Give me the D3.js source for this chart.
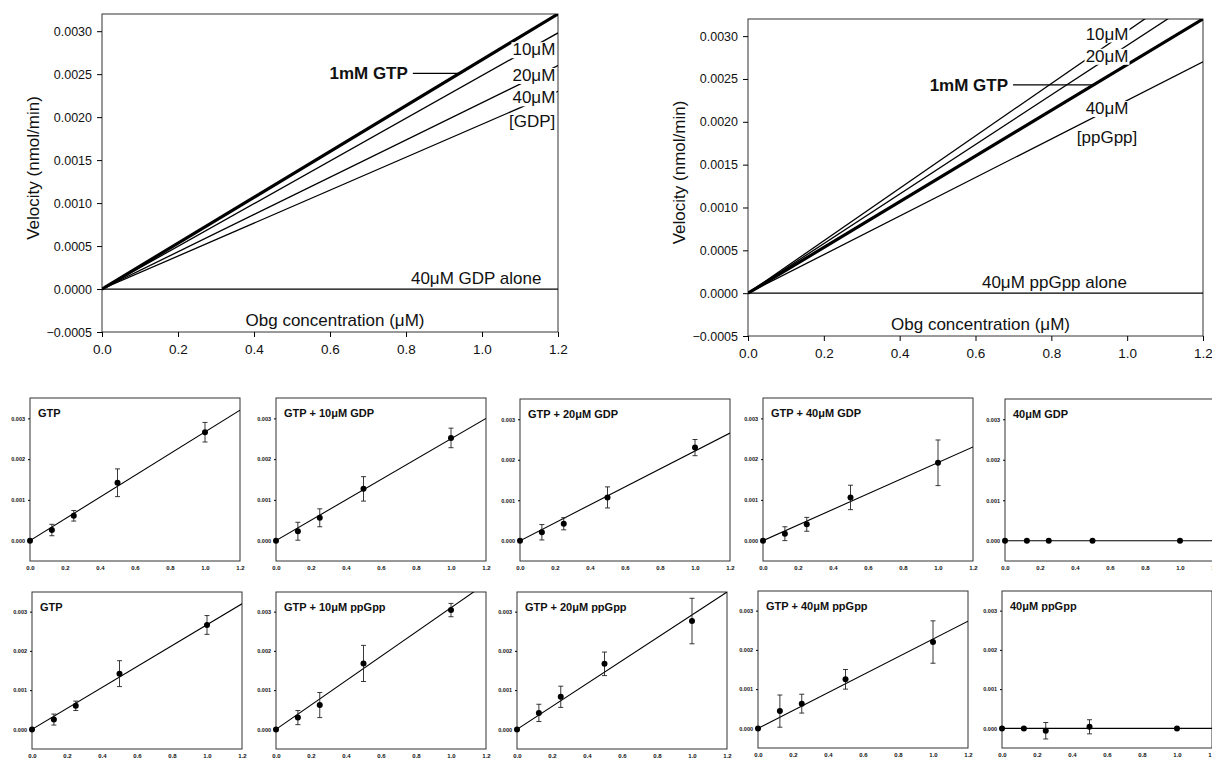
<!DOCTYPE html>
<html>
<head>
<meta charset="utf-8">
<script src="https://cdn.jsdelivr.net/npm/d3@7"></script>
<style>
  body { margin: 0; background: #fff; }
  svg text { font-family: "Liberation Sans", Arial, sans-serif; fill: #111; }
</style>
</head>
<body>
<div id="chart"></div>
<script>
// ---- data ----
const concX = [0, 0.125, 0.25, 0.5, 1.0];           // Obg concentration (μM)
const bigXTicks = [0, 0.2, 0.4, 0.6, 0.8, 1.0, 1.2];
const bigYTicks = [-0.0005, 0, 0.0005, 0.001, 0.0015, 0.002, 0.0025, 0.003];
const smallXTicks = [0, 0.2, 0.4, 0.6, 0.8, 1.0, 1.2];
const smallYTicks = [0, 0.001, 0.002, 0.003];

// fitted lines of the two summary charts: velocity at 1.2 μM Obg
const gdpSeries = ["1mM GTP", "10μM", "20μM", "40μM", "40μM GDP alone"];
const gdpEnd = [0.0032, 0.00298, 0.0026, 0.0023, 0];
const ppgppSeries = ["1mM GTP", "10μM", "20μM", "40μM", "40μM ppGpp alone"];
const ppgppEnd = [0.0032, 0.00367, 0.00347, 0.0027, 0];

// small panels: means, error bars and fitted line value at 1.2 μM
const panelTitles = [
  "GTP", "GTP + 10μM GDP", "GTP + 20μM GDP", "GTP + 40μM GDP", "40μM GDP",
  "GTP", "GTP + 10μM ppGpp", "GTP + 20μM ppGpp", "GTP + 40μM ppGpp", "40μM ppGpp"
];
const panelMeans = [
  [0, 0.00026, 0.00061, 0.00142, 0.00266],
  [0, 0.00023, 0.00056, 0.00127, 0.00252],
  [0, 0.00021, 0.00042, 0.00107, 0.0023],
  [0, 0.00017, 0.0004, 0.00106, 0.00191],
  [0, 0, 0, 0, 0],
  [0, 0.00025, 0.0006, 0.00142, 0.00266],
  [0, 0.0003, 0.00062, 0.00168, 0.00304],
  [0, 0.00042, 0.00083, 0.00167, 0.00276],
  [0, 0.00044, 0.00063, 0.00125, 0.0022],
  [0, 0, -0.00006, 0.00004, 0]
];
const panelErrors = [
  [0, 0.00014, 0.00013, 0.00034, 0.00024],
  [0, 0.00022, 0.00022, 0.0003, 0.00024],
  [0, 0.00019, 0.00015, 0.00026, 0.0002],
  [0, 0.00017, 0.00017, 0.0003, 0.00056],
  [0, 0, 0, 0, 0],
  [0, 0.00014, 0.00012, 0.00033, 0.00024],
  [0, 0.00018, 0.00032, 0.00046, 0.00017],
  [0, 0.00022, 0.00027, 0.0003, 0.00058],
  [0, 0.00041, 0.00024, 0.00025, 0.00054],
  [0, 0, 0.00021, 0.00018, 0]
];
const panelFitEnd = [0.0032, 0.003, 0.00266, 0.0023, 0, 0.0032, 0.00372, 0.0035, 0.00273, 0];

// ---- layout ----
const svg = d3.select("#chart")
  .append("svg")
  .attr("width", 1212)
  .attr("height", 763);

// put a white box behind a text so lines look interrupted
function addBackground(textSel) {
  const b = textSel.node().getBBox();
  d3.select(textSel.node().parentNode)
    .insert("rect", () => textSel.node())
    .attr("x", b.x - 1).attr("y", b.y + 2)
    .attr("width", b.width + 2).attr("height", b.height - 3)
    .attr("fill", "#fff");
}

function drawBig(box, fitEnd, series, notes) {
  const x = d3.scaleLinear().domain([0, 1.2]).range([box.x0, box.x1]);
  const y = d3.scaleLinear().domain([-0.0005, 0.0032]).range([box.y1, box.y0]);
  const g = svg.append("g");

  // frame
  g.append("rect")
    .attr("x", box.x0).attr("y", box.y0)
    .attr("width", box.x1 - box.x0).attr("height", box.y1 - box.y0)
    .attr("fill", "none").attr("stroke", "#333").attr("stroke-width", 1);

  // axes
  g.append("g")
    .attr("transform", `translate(${box.x0},0)`)
    .call(d3.axisLeft(y).tickValues(bigYTicks).tickFormat(d3.format(".4f")).tickSize(5).tickPadding(5))
    .call(a => a.select(".domain").remove())
    .call(a => a.selectAll("text").style("font-size", "12.5px"));
  g.append("g")
    .attr("transform", `translate(0,${box.y1})`)
    .call(d3.axisBottom(x).tickValues(bigXTicks).tickFormat(d3.format(".1f")).tickSize(5).tickPadding(7))
    .call(a => a.select(".domain").remove())
    .call(a => a.selectAll("text").style("font-size", "13.5px"));

  // fitted lines
  const line = d3.line().x(d => x(d[0])).y(d => y(d[1]));
  const clipId = "clip" + box.x0;
  g.append("clipPath").attr("id", clipId)
    .append("rect")
    .attr("x", box.x0).attr("y", box.y0)
    .attr("width", box.x1 - box.x0).attr("height", box.y1 - box.y0);
  g.append("g").attr("clip-path", `url(#${clipId})`)
    .selectAll("path")
    .data(fitEnd)
    .join("path")
    .attr("d", v => line([[0, 0], [1.2, v]]))
    .attr("fill", "none")
    .attr("stroke", "#000")
    .attr("stroke-width", (v, i) => (i === 0 ? 3.2 : 1.3));

  // labels for the thin lines, white-backed
  const labelG = g.append("g");
  notes.labels.forEach(n => {
    const t = labelG.append("text")
      .attr("x", x(n.x)).attr("y", y(n.y))
      .attr("dy", "0.35em")
      .attr("text-anchor", n.anchor)
      .style("font-size", "17px")
      .text(n.text);
    addBackground(t);
  });

  // 1mM GTP callout with leader to the thick line
  const leadY = notes.gtp.y;
  g.append("line")
    .attr("x1", x(notes.gtp.x)).attr("x2", x(leadY / fitEnd[0] * 1.2))
    .attr("y1", y(leadY)).attr("y2", y(leadY))
    .attr("stroke", "#000").attr("stroke-width", 1.2);
  g.append("text")
    .attr("x", x(notes.gtp.x) - 5).attr("y", y(leadY))
    .attr("dy", "0.35em")
    .attr("text-anchor", "end")
    .style("font-size", "17px").style("font-weight", "bold")
    .text(series[0]);

  // "alone" label above the zero line
  g.append("text")
    .attr("x", x(notes.alone)).attr("y", y(0) - 5)
    .style("font-size", "17px")
    .text(series[4]);

  // axis titles
  g.append("text")
    .attr("x", (box.x0 + box.x1) / 2 + 5).attr("y", box.y1 - 6)
    .attr("text-anchor", "middle")
    .style("font-size", "17px")
    .text("Obg concentration (μM)");
  g.append("text")
    .attr("transform", `translate(${box.x0 - 63},${(box.y0 + box.y1) / 2 - 5}) rotate(-90)`)
    .attr("text-anchor", "middle")
    .style("font-size", "17px")
    .text("Velocity (nmol/min)");
}

drawBig({ x0: 102, x1: 558, y0: 14, y1: 332 }, gdpEnd, gdpSeries, {
  labels: [
    { text: gdpSeries[1], x: 1.193, y: 0.00279, anchor: "end" },
    { text: gdpSeries[2], x: 1.193, y: 0.00249, anchor: "end" },
    { text: gdpSeries[3], x: 1.193, y: 0.00223, anchor: "end" },
    { text: "[GDP]", x: 1.193, y: 0.00195, anchor: "end" }
  ],
  gtp: { x: 0.818, y: 0.00251 },
  alone: 0.813
});

drawBig({ x0: 748, x1: 1203, y0: 19, y1: 336 }, ppgppEnd, ppgppSeries, {
  labels: [
    { text: ppgppSeries[1], x: 0.947, y: 0.00303, anchor: "middle" },
    { text: ppgppSeries[2], x: 0.947, y: 0.00277, anchor: "middle" },
    { text: ppgppSeries[3], x: 0.947, y: 0.00216, anchor: "middle" },
    { text: "[ppGpp]", x: 0.947, y: 0.00182, anchor: "middle" }
  ],
  gtp: { x: 0.699, y: 0.00243 },
  alone: 0.617
});

// ---- small panels ----
const panelBoxes = [
  { x: 30, y: 398, h: 163 }, { x: 276, y: 398, h: 163 }, { x: 520, y: 399, h: 162 },
  { x: 763, y: 398, h: 163 }, { x: 1005, y: 399, h: 162 },
  { x: 32, y: 592, h: 157 }, { x: 276, y: 592, h: 157 }, { x: 517, y: 592, h: 157 },
  { x: 758, y: 591, h: 157 }, { x: 1002, y: 591, h: 157 }
];
const panelW = 210;

panelTitles.forEach((title, i) => {
  const b = panelBoxes[i];
  const x = d3.scaleLinear().domain([0, 1.2]).range([b.x, b.x + panelW]);
  const y = d3.scaleLinear().domain([-0.0005, 0.0035]).range([b.y + b.h, b.y]);
  const g = svg.append("g");

  g.append("rect")
    .attr("x", b.x).attr("y", b.y).attr("width", panelW).attr("height", b.h)
    .attr("fill", "none").attr("stroke", "#333").attr("stroke-width", 1);

  g.append("g")
    .attr("transform", `translate(${b.x},0)`)
    .call(d3.axisLeft(y).tickValues(smallYTicks).tickFormat(d3.format(".3f")).tickSize(2).tickPadding(3))
    .call(a => a.select(".domain").remove())
    .call(a => a.selectAll("text").style("font-size", "5.5px").style("font-weight", "bold"));
  g.append("g")
    .attr("transform", `translate(0,${b.y + b.h})`)
    .call(d3.axisBottom(x).tickValues(smallXTicks).tickFormat(d3.format(".1f")).tickSize(0).tickPadding(5))
    .call(a => a.select(".domain").remove())
    .call(a => a.selectAll("text").style("font-size", "6px").style("font-weight", "bold"));

  // fitted line, clipped to the frame
  const clipId = "pclip" + i;
  g.append("clipPath").attr("id", clipId)
    .append("rect").attr("x", b.x).attr("y", b.y).attr("width", panelW).attr("height", b.h);
  const line = d3.line().x(d => x(d[0])).y(d => y(d[1]));
  g.append("path")
    .attr("clip-path", `url(#${clipId})`)
    .attr("d", line([[0, 0], [1.2, panelFitEnd[i]]]))
    .attr("fill", "none").attr("stroke", "#000").attr("stroke-width", 1.1);

  // error bars
  const pts = concX.map((c, k) => ({ c, m: panelMeans[i][k], e: panelErrors[i][k] }));
  const bars = g.append("g").attr("stroke", "#222").attr("stroke-width", 0.9);
  pts.filter(p => p.e > 0).forEach(p => {
    bars.append("line").attr("x1", x(p.c)).attr("x2", x(p.c))
      .attr("y1", y(p.m - p.e)).attr("y2", y(p.m + p.e));
    [p.m - p.e, p.m + p.e].forEach(v => {
      bars.append("line").attr("x1", x(p.c) - 2.5).attr("x2", x(p.c) + 2.5)
        .attr("y1", y(v)).attr("y2", y(v));
    });
  });

  g.selectAll("circle")
    .data(pts)
    .join("circle")
    .attr("cx", p => x(p.c)).attr("cy", p => y(p.m))
    .attr("r", 3).attr("fill", "#000");

  g.append("text")
    .attr("x", b.x + 8).attr("y", b.y + 19)
    .style("font-size", "11px").style("font-weight", "bold")
    .text(title);
});
</script>
</body>
</html>
